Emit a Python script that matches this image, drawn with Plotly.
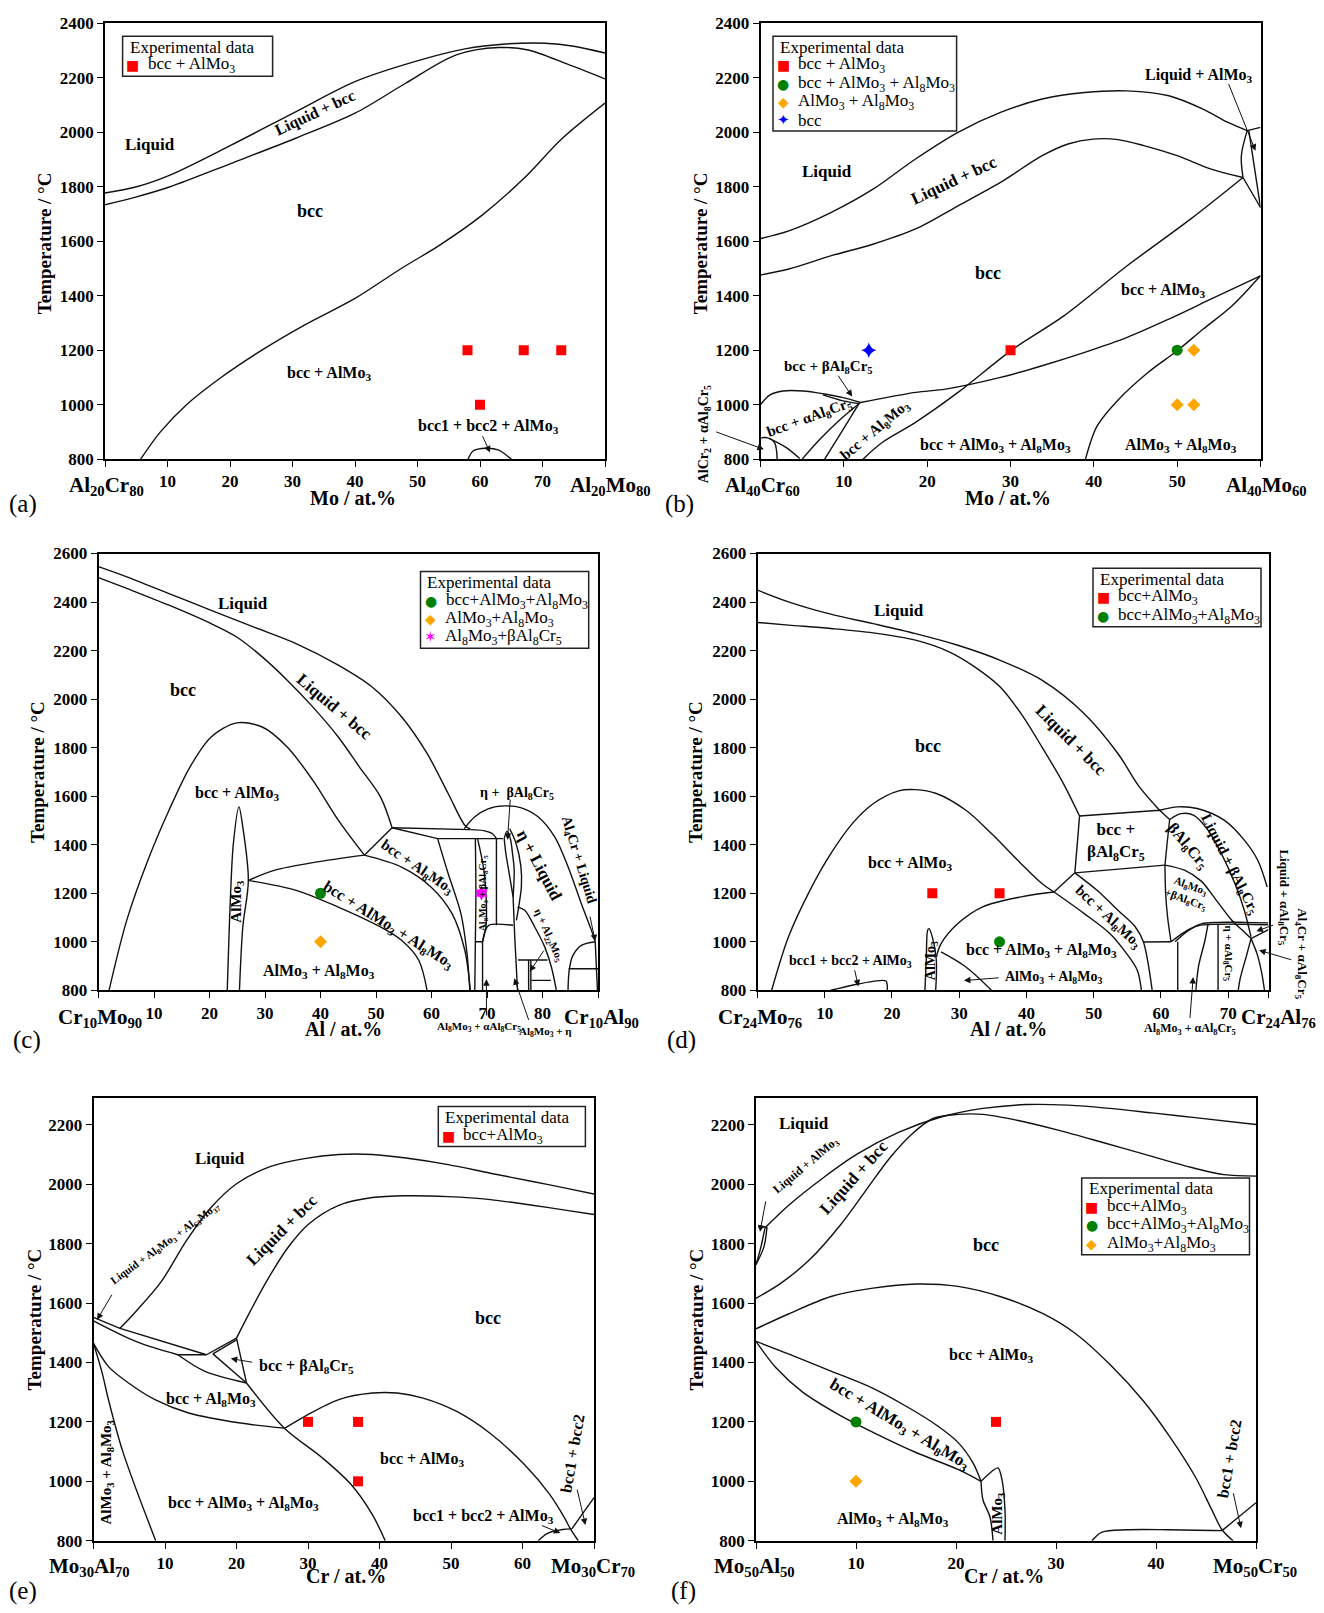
import plotly.graph_objects as go

SERIF = "Liberation Serif"
SYMBOL_FONT = "DejaVu Sans"
INK = "#111111"
W, H = 1324, 1613

# ---------------------------------------------------------------- (a) Al20Cr80 - Al20Mo80
A_LIQUIDUS = [(0, 1777), (4.9, 1799), (10.3, 1842), (20.1, 1952), (30.5, 2075), (40, 2186),
              (50.1, 2263), (57.6, 2306), (64, 2324), (70.4, 2327), (75, 2316), (80, 2291)]
A_SOLIDUS = [(0, 1734), (4.9, 1762), (10.3, 1799), (20.1, 1885), (30.5, 1978), (40, 2070),
             (48.1, 2180), (56.2, 2284), (63, 2311), (67.7, 2302), (74, 2250), (80, 2196)]
A_SOLVUS = [(5.7, 800), (8.9, 901), (13, 999), (18.4, 1097), (25.1, 1200), (31.9, 1292), (40, 1390),
            (47.4, 1500), (53.5, 1585), (60.3, 1695), (67, 1830), (73.1, 1976), (80, 2107)]
A_MISCIBILITY = [(58.1, 800), (58.9, 830), (60.9, 840), (62.9, 834), (65, 800)]
A_RED_X = [58, 67, 73, 60]
A_RED_T = [1200, 1200, 1200, 1000]

# ---------------------------------------------------------------- (b) Al40Cr60 - Al40Mo60
B_LIQUIDUS = [(0, 1610), (3.4, 1638), (8.5, 1706), (13.5, 1791), (18.6, 1902), (23.7, 2000),
              (28.8, 2073), (33.8, 2122), (38.9, 2146), (44, 2152), (49, 2134), (53.1, 2085),
              (56.1, 2036), (58.4, 2006)]
B_LIQUIDUS_END = [(58.4, 2006), (60, 2018)]
B_SOLIDUS = [(0, 1476), (3.4, 1498), (8.5, 1547), (13.5, 1589), (18.6, 1645), (23.7, 1730),
             (28.8, 1816), (33.8, 1914), (36.9, 1957), (39.9, 1975), (42.9, 1973), (46, 1951),
             (50, 1914), (54.1, 1865), (57.9, 1834)]
B_CORNER_1 = [(58.4, 2006), (57.7, 1914), (57.9, 1834)]
B_CORNER_2 = [(58.6, 2006), (60, 1724)]
B_CORNER_3 = [(57.9, 1834), (60, 1724)]
B_BCC_EDGE = [(57.9, 1834), (51.6, 1681), (44, 1510), (36.4, 1326), (30.3, 1204), (23.7, 1045),
              (18.6, 935), (14.6, 861), (12.3, 800)]
B_THREE_PHASE = [(60, 1473), (54.1, 1388), (49, 1314), (44, 1247), (38.9, 1192), (33.8, 1143),
                 (28.8, 1100), (22.2, 1057), (18.6, 1045), (12, 1008)]
B_ALMO3_EDGE = [(60, 1473), (56.6, 1363), (53.1, 1277), (50, 1198), (46.5, 1118), (43, 1020),
                (40.4, 922), (39, 800)]
B_DOME = [(0, 1000), (1.1, 1035), (2.7, 1050), (5.1, 1050), (7.5, 1040), (9.9, 1026), (12, 1008)]
B_THIN = [(7.5, 1036), (9.9, 1014), (11.8, 1004)]
B_DIAG_1 = [(12, 1008), (9.5, 944), (7.1, 872), (5, 800)]
B_DIAG_2 = [(11.8, 1003), (9.9, 908), (7.7, 800)]
B_SMALL_1 = [(0, 878), (0.9, 878), (1.7, 860), (2, 800)]
B_SMALL_2 = [(1.1, 875), (3.1, 842), (4.7, 802)]
B_RED_X, B_RED_T = [30], [1200]
B_GREEN_X, B_GREEN_T = [50], [1200]
B_ORANGE_X, B_ORANGE_T = [52, 50, 52], [1200, 1000, 1000]
B_BLUE_X, B_BLUE_T = [13], [1200]

# ---------------------------------------------------------------- (c) Cr10Mo90 - Cr10Al90
C_LIQUIDUS = [(0, 2546), (5.1, 2504), (12.7, 2435), (20.3, 2366), (27.9, 2298), (35.6, 2229),
              (43.2, 2140), (49.3, 2050), (54.6, 1927), (59.2, 1776), (63, 1611), (66, 1480),
              (67, 1464)]
C_SOLIDUS = [(0, 2501), (5.1, 2456), (12.7, 2387), (20.3, 2311), (24.9, 2256), (29.5, 2174),
             (34, 2078), (38.6, 1968), (43.2, 1844), (47, 1721), (50.8, 1597), (52.9, 1470)]
C_PLATEAU_1 = [(52.9, 1470), (67, 1462)]
C_PLATEAU_2 = [(52.9, 1470), (61.1, 1425), (72.9, 1425)]
C_DOME = [(1.9, 800), (5.1, 1089), (8.9, 1336), (12.7, 1542), (16.5, 1721), (20.3, 1844),
          (24.9, 1902), (29.5, 1885), (34, 1803), (38.6, 1666), (43.2, 1501), (47.9, 1357)]
C_DOME_LINK = [(47.9, 1357), (52.9, 1470)]
C_ALMO3 = [(23.2, 800), (23.8, 1198), (24.3, 1405), (25.3, 1556), (26, 1473), (27, 1253),
           (26, 1061), (25.4, 800)]
C_UPPER = [(27, 1253), (31.8, 1295), (39.4, 1329), (47.9, 1357)]
C_LOWER = [(27, 1253), (35.6, 1212), (43.2, 1143), (50.8, 1061), (54.6, 1006), (57.7, 924),
           (59.2, 800)]
C_BCC_AL8 = [(47.9, 1357), (54.6, 1308), (59.9, 1226), (63.7, 1116), (66, 965), (67, 800)]
C_AL8_EDGE = [(61.1, 1425), (63, 1281), (65.3, 1116), (66.4, 951), (66.9, 800)]
C_ARC = [(65.9, 1466), (67.8, 1515), (70.2, 1548), (73.2, 1560), (76.2, 1552), (79.2, 1515),
         (82.2, 1432), (84.6, 1309), (87, 1157), (88.8, 1048), (89.5, 1000)]
C_ARC_SMALL = [(67, 1462), (69.4, 1458), (71, 1445), (71.7, 1425)]
C_V2 = [(67.9, 1425), (68, 1200), (67.9, 1000), (67.8, 800)]
C_LENS_R = [(68.3, 1425), (69.4, 1300), (69.9, 1150), (69.8, 1060), (69.2, 1000)]
C_H1000 = [(67.9, 1000), (69.2, 1000)]
C_STEP = [(69.2, 1000), (69.6, 1040), (70.3, 1068), (74.7, 1068)]
C_V3 = [(69.2, 1000), (69.2, 800)]
C_V4 = [(71.7, 1425), (71.7, 1068)]
C_SPINDLE_L = [(73.1, 1425), (73.4, 1363), (73.9, 1295), (74.7, 1185)]
C_SPINDLE_R = [(73.1, 1425), (73.6, 1455), (74.2, 1425), (74.6, 1363), (74.9, 1295), (74.7, 1185)]
C_ETA_LIQ = [(74.1, 1466), (75.2, 1408), (76.1, 1312), (76.2, 1229), (75.8, 1157), (75.3, 1088)]
C_V5 = [(74.7, 1185), (75, 1020), (75.5, 800)]
C_ETA_AL22 = [(75.5, 1143), (76.8, 1130), (78.6, 1061), (80.4, 979), (81.6, 896), (82.5, 800)]
C_R1 = [(75.6, 925), (80.9, 925)]
C_R2 = [(77.5, 925), (77.5, 800)]
C_R3 = [(77.9, 925), (77.9, 800)]
C_R4 = [(78, 841), (81.5, 841)]
C_SMALL_DOME = [(84.6, 800), (84.8, 880), (85.4, 940), (87, 985), (89.5, 1000)]
C_H889 = [(84.7, 889), (90, 889)]
C_EDGE = [(89.5, 1000), (89.9, 800)]
C_GREEN_X, C_GREEN_T = [40], [1200]
C_ORANGE_X, C_ORANGE_T = [40], [1000]
C_PINK_X, C_PINK_T = [69], [1200]

# ---------------------------------------------------------------- (d) Cr24Mo76 - Cr24Al76
D_LIQUIDUS = [(0, 2449), (4.6, 2401), (10.9, 2350), (17.2, 2311), (23.5, 2270), (29.8, 2222),
              (36.1, 2160), (42.3, 2078), (48.6, 1940), (53.6, 1776), (56.8, 1638), (59.8, 1542)]
D_SOLIDUS = [(0, 2316), (4.6, 2305), (10.9, 2291), (17.2, 2273), (23.5, 2243), (28.5, 2195),
             (32.3, 2133), (36.1, 2050), (39.2, 1940), (42.3, 1803), (45.5, 1652), (47.9, 1518)]
D_BOX_TOP = [(47.9, 1518), (59.8, 1542), (61.3, 1504)]
D_BOX_RIGHT = [(61.3, 1504), (60.9, 1400), (60.6, 1316)]
D_BOX_BOTTOM = [(47.2, 1284), (60.6, 1316)]
D_BOX_LEFT = [(47.9, 1518), (47.2, 1284)]
D_LINK = [(44.1, 1205), (47.2, 1284)]
D_OUTER = [(59.8, 1542), (62.5, 1556), (65.4, 1549), (69.4, 1501), (72.4, 1419), (74.4, 1336),
           (75.8, 1226)]
D_INNER = [(61.3, 1504), (63, 1528), (64.9, 1521), (67, 1460), (69, 1363), (71, 1240),
           (72.4, 1130), (73.4, 1020)]
D_CURVE_B = [(60.6, 1316), (63.5, 1295), (66, 1250), (68, 1180), (70.5, 1090), (72.4, 1040),
             (73.4, 1013)]
D_LENS_L = [(60.6, 1316), (60.7, 1200), (61, 1100), (61.5, 1000)]
D_H1000 = [(57.4, 999), (61.5, 1000)]
D_STEP_1 = [(61.5, 1000), (63.5, 1040), (65.5, 1066), (68.5, 1072), (72.4, 1072), (76, 1070)]
D_STEP_2 = [(62.1, 1000), (64, 1045), (66, 1074), (68.5, 1080), (72.4, 1080), (76, 1078)]
D_V1 = [(62.5, 1000), (62.5, 800)]
D_V2 = [(67, 1072), (66.5, 1000), (65.6, 900), (65.2, 800)]
D_V3 = [(68.5, 1072), (68.5, 800)]
D_V4A = [(73.4, 1013), (72.8, 950), (71.8, 850), (71.5, 800)]
D_V4B = [(73.4, 1013), (74.3, 950), (75, 870), (75.4, 800)]
D_V4C = [(73.4, 1013), (76, 1050)]
D_DOME = [(2.1, 800), (4.6, 1020), (7.8, 1212), (10.9, 1363), (14.1, 1487), (17.2, 1569),
          (21, 1622), (23.5, 1627), (26.6, 1611), (31, 1542), (34.8, 1446), (39.2, 1322),
          (42.3, 1240), (44.1, 1205)]
D_BCC_AL8_UP = [(44.1, 1205), (48.6, 1116), (52.4, 1034), (54.9, 951), (56.5, 882), (57.1, 800)]
D_BCC_AL8_LO = [(47.2, 1284), (50.5, 1212), (53.6, 1130), (56.2, 1061), (57.4, 999), (58.7, 800)]
D_THREE_PHASE = [(44.1, 1205), (39.2, 1185), (33.5, 1144), (29.8, 1075), (27.3, 992), (26.6, 937)]
D_ALMO3 = [(24.9, 800), (25.1, 924), (25.3, 1047), (25.5, 1054), (26, 1020), (26.6, 924),
           (26.5, 800)]
D_ALMO3_AL8 = [(27.3, 958), (31, 896), (34.8, 800)]
D_SMALL_DOME = [(10.9, 800), (14.1, 821), (17.2, 837), (19.1, 838), (19.3, 800)]
D_RED_X, D_RED_T = [26, 36], [1200, 1200]
D_GREEN_X, D_GREEN_T = [36], [1000]

# ---------------------------------------------------------------- (e) Mo30Al70 - Mo30Cr70
E_LIQUIDUS = [(3.7, 1515), (5.9, 1571), (9.5, 1673), (13, 1810), (16.5, 1923), (20.1, 2003),
              (24.8, 2060), (29.5, 2086), (34.3, 2100), (39, 2100), (43.7, 2088), (49.6, 2066),
              (55.5, 2037), (61.4, 2009), (66.2, 1986), (70, 1967)]
E_SOLIDUS = [(20, 1482), (21.9, 1571), (24.2, 1673), (27.2, 1787), (30.1, 1866), (34.3, 1929),
             (39, 1955), (43.7, 1961), (49.6, 1958), (55.5, 1948), (61.4, 1929), (66.2, 1912),
             (70, 1898)]
E_TIE_1 = [(0, 1552), (3.7, 1515), (15.8, 1426)]
E_TIE_2 = [(0, 1540), (6, 1470), (11.8, 1426)]
E_PLATEAU = [(11.8, 1426), (15.8, 1426)]
E_TRI_A = [(15.8, 1426), (20, 1482)]
E_TRI_A2 = [(16.7, 1429), (20, 1476)]
E_TRI_B = [(16.7, 1429), (21.4, 1331)]
E_TRI_C = [(20, 1482), (21.4, 1331)]
E_BETA = [(11.8, 1426), (15.6, 1370), (21.4, 1331)]
E_DIAG = [(21.4, 1331), (26.7, 1179), (31.9, 1081), (36, 990), (39, 888), (40.8, 800)]
E_AL8 = [(0, 1464), (2.1, 1386), (4.9, 1331), (8.6, 1275), (13.3, 1230), (20.3, 1197), (26.7, 1179)]
E_ALMO3_AL8 = [(0, 1464), (1.2, 1366), (2.1, 1274), (4.1, 1100), (8.7, 800)]
E_DOME = [(26.7, 1178), (29.5, 1218), (34.3, 1275), (39, 1297), (42.5, 1297), (46.1, 1280),
          (50.8, 1235), (55.5, 1161), (60.2, 1058), (63.8, 956), (65.9, 876), (66.7, 840),
          (67.8, 800)]
E_SMALL = [(62.2, 800), (63.5, 825), (65.6, 838), (66.9, 840)]
E_RIGHT = [(66.9, 840), (70, 945)]
E_RED_X, E_RED_T = [30, 37, 37], [1200, 1200, 1000]

# ---------------------------------------------------------------- (f) Mo50Al50 - Mo50Cr50
F_LIQUIDUS = [(0.9, 1853), (3.3, 1930), (6.7, 2021), (10.1, 2101), (14.3, 2175), (18.5, 2226),
              (22.7, 2255), (27, 2268), (31.2, 2266), (35.4, 2255), (39.6, 2240), (43.9, 2224),
              (50, 2201)]
F_BCC_TOP = [(0, 1616), (2.5, 1667), (5.4, 1747), (8.4, 1861), (10.9, 1975), (13.4, 2089),
             (15.6, 2169), (17.7, 2221), (20.2, 2235), (22.7, 2235), (26.1, 2215), (30.3, 2181),
             (34.6, 2141), (38.8, 2101), (43, 2061), (46.8, 2032), (50, 2027)]
F_LENS_1 = [(0, 1729), (0.5, 1790), (0.9, 1853)]
F_LENS_2 = [(0, 1729), (0.8, 1790), (1.1, 1856)]
F_LENS_TOP = [(0.2, 1856), (1.1, 1856)]
F_DOME = [(0, 1513), (3.3, 1564), (7.5, 1622), (11.7, 1650), (16, 1664), (20.2, 1656),
          (24.4, 1622), (28.7, 1564), (32, 1496), (35.4, 1393), (38.8, 1268), (41.3, 1154),
          (43.9, 1017), (45.6, 903), (46.6, 837), (47.7, 800)]
F_UPPER = [(0, 1471), (3.3, 1428), (7.5, 1371), (11.7, 1313), (15.1, 1251), (18.1, 1188),
           (20.2, 1131), (21.7, 1062), (22.5, 1000)]
F_LOWER = [(0, 1471), (2, 1382), (4.6, 1302), (8.4, 1222), (11.7, 1165), (16, 1097),
           (20.2, 1040), (22.5, 1000)]
F_ALMO3_L = [(22.5, 1000), (22.7, 937), (23.4, 880), (23.7, 800)]
F_ALMO3_R = [(22.5, 1000), (23.6, 1034), (24.2, 1045), (24.6, 1005), (24.9, 903), (24.9, 800)]
F_PLATEAU = [(33.6, 800), (34.6, 829), (37.1, 837), (41.3, 837), (46.6, 834)]
F_RIGHT = [(46.6, 834), (50, 928)]
F_RED_X, F_RED_T = [24], [1200]
F_GREEN_X, F_GREEN_T = [10], [1200]
F_ORANGE_X, F_ORANGE_T = [10], [1000]

# ---------------------------------------------------------------- phase-field names
A_TEXT = [(7.2, 1954, "Liquid", 17, 0), (33.6, 2070, "Liquid + bcc", 16, -25),
          (32.8, 1710, "bcc", 18, 0), (35.9, 1115, "bcc + AlMo<sub>3</sub>", 16, 0),
          (61.3, 920, "bcc1 + bcc2 + AlMo<sub>3</sub>", 16, 0)]
A_ARROWS = [((60.3, 890), (61.6, 824))]

B_TEXT = [(8, 1855, "Liquid", 17, 0), (23.2, 1822, "Liquid + bcc", 17, -25),
          (27.3, 1485, "bcc", 18, 0), (48.3, 1418, "bcc + AlMo<sub>3</sub>", 16, 0),
          (52.6, 2208, "Liquid + AlMo<sub>3</sub>", 16, 0),
          (8.1, 1137, "bcc + βAl<sub>8</sub>Cr<sub>5</sub>", 15, 0),
          (5.9, 950, "bcc + αAl<sub>8</sub>Cr<sub>5</sub>", 15, -20),
          (13.7, 905, "bcc + Al<sub>8</sub>Mo<sub>3</sub>", 15, -40),
          (28.2, 851, "bcc + AlMo<sub>3</sub> + Al<sub>8</sub>Mo<sub>3</sub>", 16, 0),
          (50.5, 851, "AlMo<sub>3</sub> + Al<sub>8</sub>Mo<sub>3</sub>", 16, 0),
          (-6.7, 890, "AlCr<sub>2</sub> + αAl<sub>8</sub>Cr<sub>5</sub>", 14, -90)]
B_ARROWS = [((56.1, 2183), (59.4, 1932)), ((9.2, 1112), (11, 1030)), ((-5.5, 902), (0.4, 836))]

C_TEXT = [(26, 2394, "Liquid", 17, 0), (15.2, 2037, "bcc", 18, 0),
          (42.4, 1968, "Liquid + bcc", 17, 40), (25, 1611, "bcc + AlMo<sub>3</sub>", 16, 0),
          (24.9, 1164, "AlMo<sub>3</sub>", 15, -90),
          (57.3, 1308, "bcc + Al<sub>8</sub>Mo<sub>3</sub>", 15, 34),
          (52.3, 1068, "bcc + AlMo<sub>3</sub> + Al<sub>8</sub>Mo<sub>3</sub>", 16, 32),
          (39.8, 876, "AlMo<sub>3</sub> + Al<sub>8</sub>Mo<sub>3</sub>", 16, 0),
          (75.4, 1612, "η +  βAl<sub>8</sub>Cr<sub>5</sub>", 14, 0),
          (79.5, 1316, "η + Liquid", 17, 62),
          (86.5, 1336, "Al<sub>4</sub>Cr + Liquid", 14, 73),
          (81, 1027, "η + Al<sub>22</sub>Mo<sub>5</sub>", 11, 66),
          (69.3, 1200, "Al<sub>8</sub>Mo<sub>3</sub> + βAl<sub>8</sub>Cr<sub>5</sub>", 10, -90),
          (68.5, 648, "Al<sub>8</sub>Mo<sub>3</sub> + αAl<sub>8</sub>Cr<sub>5</sub>", 11, 0),
          (80.5, 630, "Al<sub>8</sub>Mo<sub>3</sub> + η", 11, 0)]
C_ARROWS = [((74.2, 1592), (73.7, 1420)), ((88.5, 1110), (89.5, 1002)),
            ((80.4, 969), (77.7, 877)), ((69.9, 690), (69.9, 846)), ((77.6, 672), (74.9, 850))]

D_TEXT = [(21, 2366, "Liquid", 17, 0), (25.3, 1806, "bcc", 18, 0),
          (46.7, 1831, "Liquid + bcc", 17, 45), (22.7, 1322, "bcc + AlMo<sub>3</sub>", 16, 0),
          (53.3, 1411, "bcc +<br>βAl<sub>8</sub>Cr<sub>5</sub>", 17, 0),
          (64, 1391, "βAl<sub>8</sub>Cr<sub>5</sub>", 16, 50),
          (70.2, 1322, "Liquid + βAl<sub>8</sub>Cr<sub>5</sub>", 15, 63),
          (78.3, 1183, "Liquid + αAl<sub>8</sub>Cr<sub>5</sub>", 13, 90),
          (80.8, 950, "Al<sub>4</sub>Cr + αAl<sub>8</sub>Cr<sub>5</sub>", 13, 90),
          (70, 951, "η + αAl<sub>8</sub>Cr<sub>5</sub>", 11, 90),
          (52.1, 1102, "bcc + Al<sub>8</sub>Mo<sub>3</sub>", 15, 43),
          (64, 1198, "Al<sub>8</sub>Mo<sub>3</sub><br>+βAl<sub>8</sub>Cr<sub>5</sub>", 11, 20),
          (42.3, 962, "bcc + AlMo<sub>3</sub> + Al<sub>8</sub>Mo<sub>3</sub>", 16, 0),
          (44, 852, "AlMo<sub>3</sub> + Al<sub>8</sub>Mo<sub>3</sub>", 14, 0),
          (25.8, 924, "AlMo<sub>3</sub>", 14, -90),
          (13.8, 917, "bcc1 + bcc2 + AlMo<sub>3</sub>", 14, 0),
          (64.3, 640, "Al<sub>8</sub>Mo<sub>3</sub> + αAl<sub>8</sub>Cr<sub>5</sub>", 12, 0)]
D_ARROWS = [((14.4, 889), (15, 816)), ((36.1, 852), (30.7, 840)), ((64.3, 680), (64.8, 855)),
            ((76.9, 1071), (74.2, 1043)), ((79.6, 924), (74.6, 965))]

E_TEXT = [(17.7, 2085, "Liquid", 17, 0), (26.3, 1844, "Liquid + bcc", 17, -45),
          (10, 1798, "Liquid + Al<sub>8</sub>Mo<sub>3</sub> + Al<sub>63</sub>Mo<sub>37</sub>", 11, -36),
          (55.2, 1550, "bcc", 18, 0), (29.8, 1388, "bcc + βAl<sub>8</sub>Cr<sub>5</sub>", 16, 0),
          (16.4, 1277, "bcc + Al<sub>8</sub>Mo<sub>3</sub>", 16, 0),
          (46, 1075, "bcc + AlMo<sub>3</sub>", 16, 0),
          (21, 927, "bcc + AlMo<sub>3</sub> + Al<sub>8</sub>Mo<sub>3</sub>", 16, 0),
          (1.9, 1030, "AlMo<sub>3</sub> + Al<sub>8</sub>Mo<sub>3</sub>", 15, -90),
          (54.6, 882, "bcc1 + bcc2 + AlMo<sub>3</sub>", 16, 0),
          (67, 1093, "bcc1 + bcc2", 16, -80)]
E_ARROWS = [((2.7, 1633), (0.5, 1544)), ((22.4, 1400), (19.2, 1413)),
            ((62.5, 853), (65.3, 826)), ((67.6, 977), (68.8, 853))]

F_TEXT = [(4.8, 2203, "Liquid", 17, 0), (5, 2061, "Liquid + AlMo<sub>3</sub>", 12, -40),
          (9.8, 2021, "Liquid + bcc", 17, -48), (23, 1796, "bcc", 18, 0),
          (23.5, 1425, "bcc + AlMo<sub>3</sub>", 16, 0),
          (14.3, 1188, "bcc + AlMo<sub>3</sub> + Al<sub>8</sub>Mo<sub>3</sub>", 17, 31),
          (13.7, 871, "AlMo<sub>3</sub> + Al<sub>8</sub>Mo<sub>3</sub>", 16, 0),
          (24.2, 891, "AlMo<sub>3</sub>", 15, -90),
          (47.3, 1074, "bcc1 + bcc2", 16, -80)]
F_ARROWS = [((1, 1947), (0.4, 1840)), ((47.7, 965), (48.5, 842))]

# ---------------------------------------------------------------- marker styles
RED = ("square", "#ff0000")
GREEN = ("circle", "#008000")
ORANGE = ("diamond", "#ffa500")
BLUE = ("star-diamond", "#0000ff")
PINK = ("hexagram", "#ff00ff")
MARKER_SIZE = {"square": 10, "circle": 11, "diamond": 10, "star-diamond": 11, "hexagram": 11}
GLYPH = {"square": ("■", 14), "circle": ("●", 14), "diamond": ("◆", 14),
         "star-diamond": ("✦", 15), "hexagram": ("✶", 15)}

# ---------------------------------------------------------------- panel frames (pixel boxes)
PANELS = [
    dict(box=(105, 14.5, 605, 455.5), xr=[0, 80], yr=[800, 2400], ytop=2400,
         ends=("Al<sub>20</sub>Cr<sub>80</sub>", "Al<sub>20</sub>Mo<sub>80</sub>", 106, 610, 483),
         xtitle=("Mo / at.%", 353, 495), ytitle=(44, 237), tag=("(a)", 23, 501),
         legend=(122.6, 27.5, 272.6),
         curves=[A_LIQUIDUS, A_SOLIDUS, A_SOLVUS, A_MISCIBILITY], straight=[],
         series=[("bcc + AlMo<sub>3</sub>", RED, A_RED_X, A_RED_T)],
         text=A_TEXT, arrows=A_ARROWS),
    dict(box=(760.5, 14.5, 1260.5, 455.5), xr=[0, 60], yr=[800, 2400], ytop=2400,
         ends=("Al<sub>40</sub>Cr<sub>60</sub>", "Al<sub>40</sub>Mo<sub>60</sub>", 762, 1266, 483),
         xtitle=("Mo / at.%", 1008, 495), ytitle=(700, 237), tag=("(b)", 679, 501),
         legend=(773, 27.5, 956.6),
         curves=[B_LIQUIDUS, B_SOLIDUS, B_CORNER_1, B_BCC_EDGE, B_THREE_PHASE, B_ALMO3_EDGE,
                 B_DOME, B_THIN, B_DIAG_1, B_DIAG_2, B_SMALL_1, B_SMALL_2],
         straight=[B_LIQUIDUS_END, B_CORNER_2, B_CORNER_3],
         series=[("bcc + AlMo<sub>3</sub>", RED, B_RED_X, B_RED_T),
                 ("bcc + AlMo<sub>3</sub> + Al<sub>8</sub>Mo<sub>3</sub>", GREEN, B_GREEN_X, B_GREEN_T),
                 ("AlMo<sub>3</sub> + Al<sub>8</sub>Mo<sub>3</sub>", ORANGE, B_ORANGE_X, B_ORANGE_T),
                 ("bcc", BLUE, B_BLUE_X, B_BLUE_T)],
         text=B_TEXT, arrows=B_ARROWS),
    dict(box=(98.5, 551, 598, 993), xr=[0, 90], yr=[800, 2600], ytop=2600,
         ends=("Cr<sub>10</sub>Mo<sub>90</sub>", "Cr<sub>10</sub>Al<sub>90</sub>", 100, 601, 1021),
         xtitle=("Al / at.%", 343, 1032), ytitle=(38, 772), tag=("(c)", 27, 1043),
         legend=(420.5, 569.3, 588.7),
         curves=[C_LIQUIDUS, C_SOLIDUS, C_DOME, C_ALMO3, C_UPPER, C_LOWER, C_BCC_AL8, C_AL8_EDGE,
                 C_ARC, C_ARC_SMALL, C_V2, C_LENS_R, C_STEP, C_SPINDLE_L, C_SPINDLE_R, C_ETA_LIQ,
                 C_V5, C_ETA_AL22, C_SMALL_DOME],
         straight=[C_PLATEAU_1, C_PLATEAU_2, C_DOME_LINK, C_H1000, C_V3, C_V4, C_R1, C_R2, C_R3,
                   C_R4, C_H889, C_EDGE],
         series=[("bcc+AlMo<sub>3</sub>+Al<sub>8</sub>Mo<sub>3</sub>", GREEN, C_GREEN_X, C_GREEN_T),
                 ("AlMo<sub>3</sub>+Al<sub>8</sub>Mo<sub>3</sub>", ORANGE, C_ORANGE_X, C_ORANGE_T),
                 ("Al<sub>8</sub>Mo<sub>3</sub>+βAl<sub>8</sub>Cr<sub>5</sub>", PINK, C_PINK_X, C_PINK_T)],
         text=C_TEXT, arrows=C_ARROWS),
    dict(box=(757.5, 551, 1268.5, 993), xr=[0, 76], yr=[800, 2600], ytop=2600,
         ends=("Cr<sub>24</sub>Mo<sub>76</sub>", "Cr<sub>24</sub>Al<sub>76</sub>", 760, 1278, 1021),
         xtitle=("Al / at.%", 1008, 1032), ytitle=(696, 772), tag=("(d)", 681, 1043),
         legend=(1093, 566, 1261),
         curves=[D_LIQUIDUS, D_SOLIDUS, D_BOX_RIGHT, D_OUTER, D_INNER, D_CURVE_B, D_LENS_L,
                 D_STEP_1, D_STEP_2, D_V2, D_V4A, D_V4B, D_DOME, D_BCC_AL8_UP, D_BCC_AL8_LO,
                 D_THREE_PHASE, D_ALMO3, D_ALMO3_AL8, D_SMALL_DOME],
         straight=[D_BOX_TOP, D_BOX_BOTTOM, D_BOX_LEFT, D_LINK, D_H1000, D_V1, D_V3, D_V4C],
         series=[("bcc+AlMo<sub>3</sub>", RED, D_RED_X, D_RED_T),
                 ("bcc+AlMo<sub>3</sub>+Al<sub>8</sub>Mo<sub>3</sub>", GREEN, D_GREEN_X, D_GREEN_T)],
         text=D_TEXT, arrows=D_ARROWS),
    dict(box=(93.5, 1102, 594, 1550), xr=[0, 70], yr=[800, 2290], ytop=2200,
         ends=("Mo<sub>30</sub>Al<sub>70</sub>", "Mo<sub>30</sub>Cr<sub>70</sub>", 89, 593, 1577),
         xtitle=("Cr / at.%", 346, 1586), ytitle=(34, 1326), tag=("(e)", 23, 1601),
         legend=(438.3, 1110.5, 585.4),
         curves=[E_LIQUIDUS, E_SOLIDUS, E_TIE_2, E_BETA, E_DIAG, E_AL8, E_ALMO3_AL8, E_DOME,
                 E_SMALL],
         straight=[E_TIE_1, E_PLATEAU, E_TRI_A, E_TRI_A2, E_TRI_B, E_TRI_C, E_RIGHT],
         series=[("bcc+AlMo<sub>3</sub>", RED, E_RED_X, E_RED_T)],
         text=E_TEXT, arrows=E_ARROWS),
    dict(box=(756, 1102, 1256, 1550), xr=[0, 50], yr=[800, 2290], ytop=2200,
         ends=("Mo<sub>50</sub>Al<sub>50</sub>", "Mo<sub>50</sub>Cr<sub>50</sub>", 754, 1255, 1577),
         xtitle=("Cr / at.%", 1004, 1586), ytitle=(696, 1326), tag=("(f)", 683, 1601),
         legend=(1081.7, 1183, 1249.5),
         curves=[F_LIQUIDUS, F_BCC_TOP, F_LENS_1, F_LENS_2, F_DOME, F_UPPER, F_LOWER, F_ALMO3_L,
                 F_ALMO3_R, F_PLATEAU],
         straight=[F_LENS_TOP, F_RIGHT],
         series=[("bcc+AlMo<sub>3</sub>", RED, F_RED_X, F_RED_T),
                 ("bcc+AlMo<sub>3</sub>+Al<sub>8</sub>Mo<sub>3</sub>", GREEN, F_GREEN_X, F_GREEN_T),
                 ("AlMo<sub>3</sub>+Al<sub>8</sub>Mo<sub>3</sub>", ORANGE, F_ORANGE_X, F_ORANGE_T)],
         text=F_TEXT, arrows=F_ARROWS),
]

LEGEND_TITLE_GAP = 11      # px from box top to title centre
LEGEND_ROW = 18.5          # px between legend rows


def px_x(px):
    return px / W


def px_y(py):
    return 1 - py / H


def font(size, bold=True, family=SERIF):
    return dict(family=family, size=size, color="black", weight="bold" if bold else "normal")


def data_to_paper(P, x, y):
    """Map a data position of panel P to paper coordinates (labels may sit outside the axes)."""
    l, t, r, b = P["box"]
    x0, x1 = P["xr"]
    y0, y1 = P["yr"]
    px = l + (x - x0) / (x1 - x0) * (r - l)
    py = b - (y - y0) / (y1 - y0) * (b - t)
    return px_x(px), px_y(py)


def paper_text(fig, px, py, text, size, bold=True, angle=0, xanchor="center", family=SERIF,
               color="black"):
    f = font(size, bold, family)
    f["color"] = color
    fig.add_annotation(x=px_x(px), y=px_y(py), xref="paper", yref="paper", text=text,
                       showarrow=False, textangle=angle, xanchor=xanchor, yanchor="middle",
                       font=f)


fig = go.Figure()
layout = dict(width=W, height=H, margin=dict(l=0, r=0, t=0, b=0),
              paper_bgcolor="white", plot_bgcolor="white", showlegend=False)
shapes = []

for i, P in enumerate(PANELS, start=1):
    sx = "" if i == 1 else str(i)
    xref, yref = "x" + sx, "y" + sx
    l, t, r, b = P["box"]
    x0, x1 = P["xr"]
    ticks_x = list(range(0, x1 + 1, 10))
    if ticks_x[-1] != x1:
        ticks_x.append(x1)
    tick_txt = ["" if (v == 0 or v == x1) else str(v) for v in ticks_x]
    layout["xaxis" + sx] = dict(
        domain=[px_x(l), px_x(r)], range=[x0, x1], anchor=yref,
        tickvals=ticks_x, ticktext=tick_txt, ticks="outside", ticklen=6, tickwidth=1.2,
        tickcolor="black", tickfont=font(17), showline=True, linecolor="black", linewidth=1.6,
        mirror=True, showgrid=False, zeroline=False, fixedrange=True)
    layout["yaxis" + sx] = dict(
        domain=[px_y(b), px_y(t)], range=P["yr"], anchor=xref,
        tickvals=list(range(800, P["ytop"] + 1, 200)), ticks="outside", ticklen=6,
        tickwidth=1.2, tickcolor="black", tickfont=font(17), showline=True,
        linecolor="black", linewidth=1.6, mirror=True, showgrid=False, zeroline=False,
        fixedrange=True)

    # phase boundaries
    for pts, shape in [(c, "spline") for c in P["curves"]] + [(c, "linear") for c in P["straight"]]:
        fig.add_trace(go.Scatter(
            x=[p[0] for p in pts], y=[p[1] for p in pts], mode="lines",
            line=dict(color=INK, width=1.4, shape=shape, smoothing=0.9),
            hoverinfo="skip", showlegend=False, xaxis=xref, yaxis=yref))

    # experimental data
    for name, (sym, col), xs, ts in P["series"]:
        fig.add_trace(go.Scatter(
            x=xs, y=ts, mode="markers", name=name, showlegend=False,
            marker=dict(symbol=sym, color=col, size=MARKER_SIZE[sym], line=dict(width=0)),
            xaxis=xref, yaxis=yref, hoverinfo="skip"))

    # key box for the experimental data
    gl, gt, gr = P["legend"]
    n = len(P["series"])
    gb = gt + LEGEND_TITLE_GAP + LEGEND_ROW * n + 11
    shapes.append(dict(type="rect", xref="paper", yref="paper", x0=px_x(gl), x1=px_x(gr),
                       y0=px_y(gb), y1=px_y(gt), line=dict(color="#222222", width=1.5),
                       fillcolor="white", layer="above"))
    paper_text(fig, gl + 5, gt + LEGEND_TITLE_GAP, "Experimental data", 17, bold=False,
               xanchor="left")
    for k, (name, (sym, col), _, _) in enumerate(P["series"], start=1):
        row_y = gt + LEGEND_TITLE_GAP + LEGEND_ROW * k
        glyph, gsize = GLYPH[sym]
        paper_text(fig, gl + 10, row_y, glyph, gsize, bold=False, family=SYMBOL_FONT, color=col)
        paper_text(fig, gl + 23, row_y, name, 17, bold=False, xanchor="left")

    # phase-field names and pointers
    for x, y, txt, size, ang in P["text"]:
        ppx, ppy = data_to_paper(P, x, y)
        fig.add_annotation(x=ppx, y=ppy, xref="paper", yref="paper", text=txt, showarrow=False,
                           textangle=ang, xanchor="center", yanchor="middle", font=font(size))
    for tail, head in P["arrows"]:
        fig.add_annotation(x=head[0], y=head[1], ax=tail[0], ay=tail[1], xref=xref, yref=yref,
                           axref=xref, ayref=yref, text="", showarrow=True, arrowhead=2,
                           arrowsize=1.3, arrowwidth=1, arrowcolor=INK, standoff=0)

    # composition end members, axis titles and panel tag
    left_end, right_end, lx_px, rx_px, ey = P["ends"]
    paper_text(fig, lx_px, ey, left_end, 21)
    paper_text(fig, rx_px, ey, right_end, 21)
    tt, tx, ty = P["xtitle"]
    paper_text(fig, tx, ty, tt, 20)
    yx, yy = P["ytitle"]
    paper_text(fig, yx, yy, "Temperature / °C", 19, angle=-90)
    tag, gx, gy = P["tag"]
    paper_text(fig, gx, gy, tag, 25, bold=False)

layout["shapes"] = shapes
fig.update_layout(**layout)
fig.write_html("out.html")
